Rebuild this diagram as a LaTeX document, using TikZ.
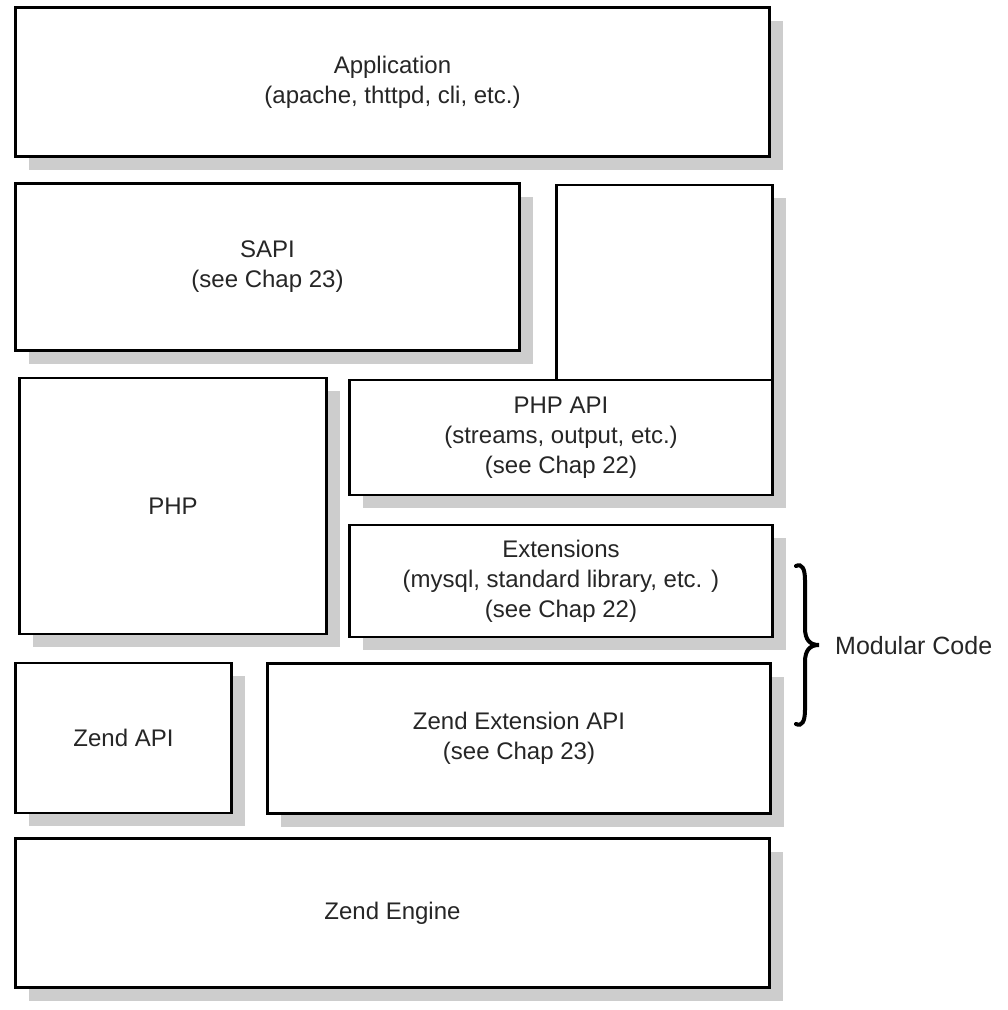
\documentclass[tikz,border=0pt]{standalone}
\usepackage{fontspec}
\setmainfont{Liberation Sans}
\usetikzlibrary{shadows}
\definecolor{shadowgray}{HTML}{CDCDCD}
\definecolor{txt}{HTML}{262626}
\tikzset{
  layerbox/.style={draw=black, line width=2.6pt, fill=white, align=center,
    text=txt, inner sep=0pt, font=\fontsize{24}{30}\selectfont,
    drop shadow={shadow xshift=13pt, shadow yshift=-13pt, fill=shadowgray, opacity=1}},
  bracestyle/.style={draw=black, line width=4pt, line cap=round, line join=miter}
}
\begin{document}
\begin{tikzpicture}[x=1pt, y=-1pt]
\useasboundingbox (0,0) rectangle (1008,1010);
\node[layerbox, minimum width=754pt, minimum height=149pt] (app) at (392.5,82) {Application\\(apache, thttpd, cli, etc.)};
\node[layerbox, minimum width=504pt, minimum height=167pt] (sapi) at (267.5,267) {SAPI\\(see Chap 23)};
\node[layerbox, minimum width=216pt, minimum height=195pt] (blank) at (664.5,282.5) {};
\node[layerbox, minimum width=307pt, minimum height=256pt] (php) at (173,506) {PHP};
\node[layerbox, minimum width=423pt, minimum height=115pt] (phpapi) at (561,437.5) {PHP API\\(streams, output, etc.)\\(see Chap 22)};
\node[layerbox, minimum width=423pt, minimum height=112pt] (ext) at (561,581) {Extensions\\(mysql, standard library, etc. )\\(see Chap 22)};
\node[layerbox, minimum width=216pt, minimum height=150pt] (zendapi) at (123.5,738) {Zend API};
\node[layerbox, minimum width=503pt, minimum height=150pt] (zendext) at (519,738.5) {Zend Extension API\\(see Chap 23)};
\node[layerbox, minimum width=754pt, minimum height=149pt] (engine) at (392.5,913) {Zend Engine};
\draw[bracestyle] (796,566) .. controls (802,563) and (805,569) .. (805,580) -- (805,628)
  .. controls (805,640) and (810,645) .. (819,645)
  .. controls (810,645) and (805,650) .. (805,662) -- (805,710)
  .. controls (805,721) and (802,727) .. (796,724);
\node[anchor=west, text=txt, inner sep=0pt, font=\fontsize{25}{30}\selectfont] (mod) at (835,646) {Modular Code};
\end{tikzpicture}
\end{document}
